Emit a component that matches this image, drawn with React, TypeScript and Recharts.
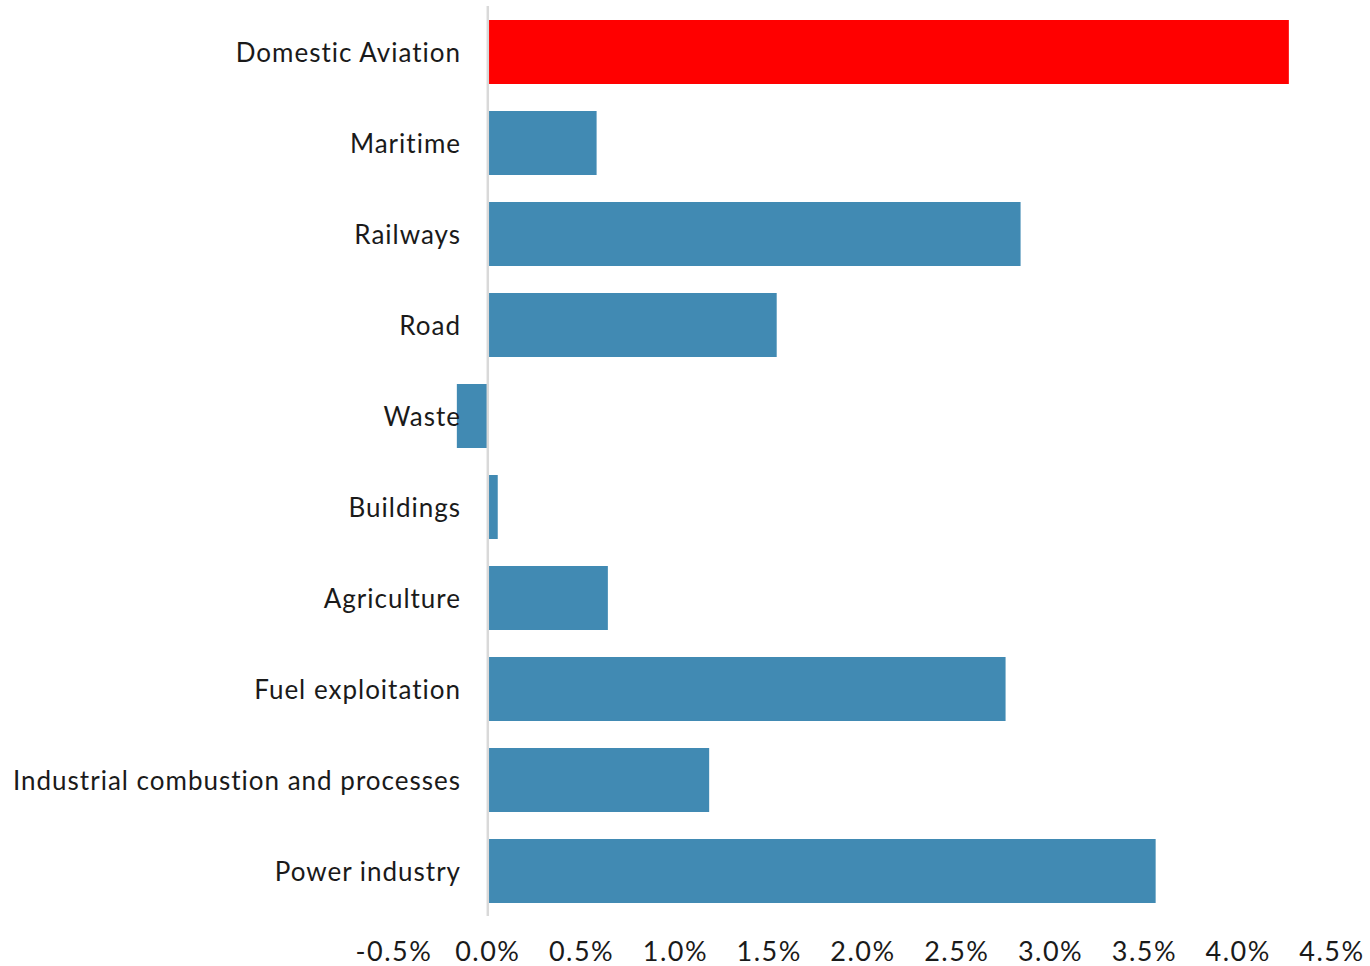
import { Bar, BarChart, Cell, ReferenceLine, XAxis, YAxis } from "recharts";

const SECTORS = [
  "Domestic Aviation",
  "Maritime",
  "Railways",
  "Road",
  "Waste",
  "Buildings",
  "Agriculture",
  "Fuel exploitation",
  "Industrial combustion and processes",
  "Power industry",
];

const GROWTH = [0.0427, 0.0058, 0.0284, 0.0154, -0.00165, 0.00053, 0.0064, 0.0276, 0.0118, 0.0356];

const X_TICKS = [-0.005, 0, 0.005, 0.01, 0.015, 0.02, 0.025, 0.03, 0.035, 0.04, 0.045];

const HIGHLIGHT = "Domestic Aviation";

const data = SECTORS.map((sector, i) => ({ sector, growth: GROWTH[i] }));

const FONT = "Lato, 'Open Sans', sans-serif";

function SectorTick(props: any) {
  const { x, y, payload } = props;
  // labels sit next to the zero line, not at the left edge of the plot
  return (
    <text
      x={x + 75}
      y={y}
      textAnchor="end"
      dominantBaseline="central"
      fill="#1a1a1a"
      fontSize={26}
      letterSpacing={1}
      fontFamily={FONT}
    >
      {payload.value}
    </text>
  );
}

export default function App() {
  return (
    <div style={{ position: "absolute", left: 0, top: 0, background: "#fff" }}>
      <BarChart
        width={1370}
        height={966}
        data={data}
        layout="vertical"
        margin={{ top: 6, right: 38, bottom: 0, left: 0 }}
        barSize={64}
      >
        <XAxis
          type="number"
          domain={[-0.005, 0.045]}
          ticks={X_TICKS}
          tickFormatter={(v: number) => `${(v * 100).toFixed(1)}%`}
          axisLine={false}
          tickLine={false}
          tickMargin={20}
          height={50}
          interval={0}
          tick={{ fill: "#1a1a1a", fontSize: 27, fontFamily: FONT, letterSpacing: 1.5 }}
        />
        <YAxis
          type="category"
          dataKey="sector"
          width={394}
          axisLine={false}
          tickLine={false}
          interval={0}
          tick={<SectorTick />}
        />
        <ReferenceLine x={0} stroke="#d9d9d9" strokeWidth={2.5} />
        <Bar dataKey="growth" isAnimationActive={false}>
          {data.map((d) => (
            <Cell key={d.sector} fill={d.sector === HIGHLIGHT ? "#ff0000" : "#418ab3"} />
          ))}
        </Bar>
      </BarChart>
    </div>
  );
}
